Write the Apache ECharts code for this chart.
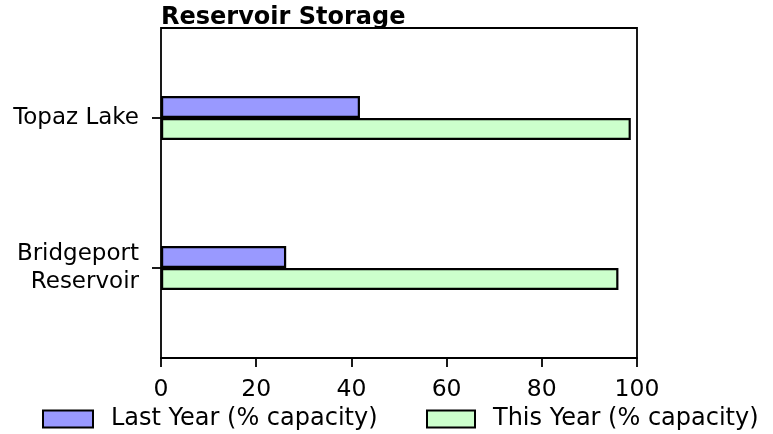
<!DOCTYPE html>
<html><head><meta charset="utf-8">
<script src="https://cdn.jsdelivr.net/npm/echarts@6/dist/echarts.min.js"></script>
<style>html,body{margin:0;padding:0;background:#fff}#c{width:773px;height:434px}</style>
</head><body><div id="c"></div>
<script>
const categories = ['Bridgeport\nReservoir', 'Topaz Lake'];
const lastYear = [26.3, 41.8];
const thisYear = [96.1, 98.7];
const xTicks = [0, 20, 40, 60, 80, 100];
const seriesNames = ['Last Year (% capacity)', 'This Year (% capacity)'];

const FONT = 'DejaVu Sans';
const chart = echarts.init(document.getElementById('c'));
chart.setOption({
  animation: false,
  backgroundColor: '#fff',
  textStyle: { fontFamily: FONT },
  title: { text: 'Reservoir Storage', left: 161, top: 6, padding: 0,
    textStyle: { fontFamily: FONT, fontWeight: 'bold', fontSize: 24, color: '#000' } },
  grid: [
    { left: 161, right: 136, top: 28, bottom: 76, show: true, borderColor: '#000', borderWidth: 1.8, backgroundColor: 'transparent' },
    { left: 161, right: 136, top: 43, bottom: 91 }
  ],
  xAxis: [
    { gridIndex: 0, type: 'value', min: xTicks[0], max: xTicks[xTicks.length - 1], interval: 20,
      axisLine: { show: true, lineStyle: { color: '#000', width: 1.8 } },
      axisTick: { show: true, length: 9, lineStyle: { color: '#000', width: 1.8 } },
      splitLine: { show: false },
      axisLabel: { margin: 20, fontSize: 23.5, color: '#000', fontFamily: FONT } },
    { gridIndex: 1, type: 'value', min: xTicks[0], max: xTicks[xTicks.length - 1], show: false }
  ],
  yAxis: [
    { gridIndex: 0, type: 'value', show: false },
    { gridIndex: 1, type: 'category', data: categories,
      axisLine: { show: false },
      axisTick: { show: true, alignWithLabel: true, length: 9, lineStyle: { color: '#000', width: 1.8 } },
      axisLabel: { margin: 22, fontSize: 23, color: '#000', fontFamily: FONT, lineHeight: 28, align: 'right' } }
  ],
  legend: [
    { data: [seriesNames[0]], left: 42, top: 407, padding: 0, itemWidth: 50, itemHeight: 17, icon: 'rect',
      itemStyle: { borderColor: '#000', borderWidth: 2 },
      textStyle: { fontSize: 24, color: '#000', fontFamily: FONT, padding: [0, 0, 0, 13] } },
    { data: [seriesNames[1]], left: 426, top: 407, padding: 0, itemWidth: 48, itemHeight: 17, icon: 'rect',
      itemStyle: { borderColor: '#000', borderWidth: 2 },
      textStyle: { fontSize: 24, color: '#000', fontFamily: FONT, padding: [0, 0, 0, 13] } }
  ],
  series: [
    { name: seriesNames[0], type: 'bar', xAxisIndex: 1, yAxisIndex: 1, data: lastYear,
      barWidth: 22, barGap: '0%',
      itemStyle: { color: '#9999ff', borderColor: '#000', borderWidth: 2.2 } },
    { name: seriesNames[1], type: 'bar', xAxisIndex: 1, yAxisIndex: 1, data: thisYear,
      barWidth: 22, barGap: '0%',
      itemStyle: { color: '#ccffcc', borderColor: '#000', borderWidth: 2.2 } }
  ]
});
</script></body></html>
